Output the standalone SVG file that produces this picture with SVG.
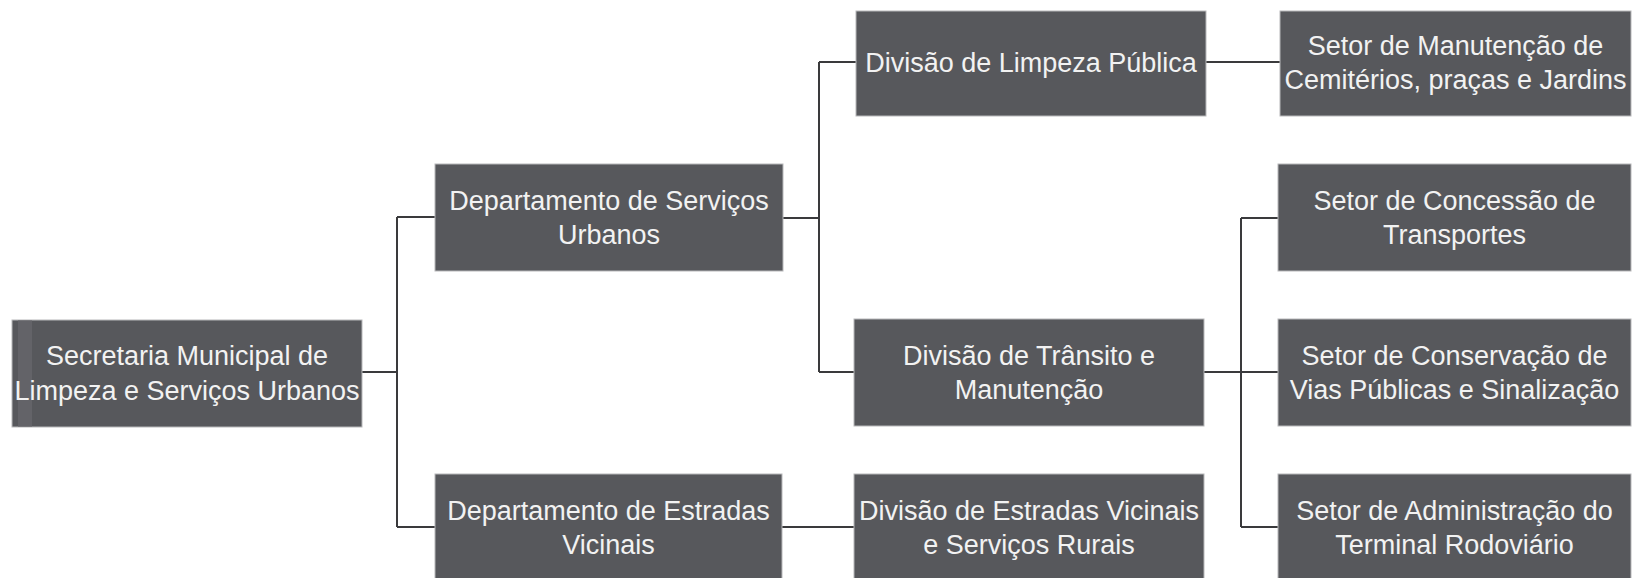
<svg xmlns="http://www.w3.org/2000/svg" width="1634" height="578" viewBox="0 0 1634 578">
<style>
.box{fill:#57585c;stroke:#b8b8ba;stroke-width:1}
.t{font-family:"Liberation Sans",Arial,sans-serif;font-size:27px;fill:#f2f2f2;text-anchor:middle}
.c{fill:none;stroke:#3a3a3c;stroke-width:2}
</style>
<rect width="1634" height="578" fill="#ffffff"/>
<g id="connectors">
<path class="c" d="M362 372H397M397 217V527M397 217H435M397 527H435"/>
<path class="c" d="M783 218H819M819 62V372M819 62H856M819 372H854"/>
<path class="c" d="M1206 62H1280"/>
<path class="c" d="M1204 372H1278M1241 218V527M1241 218H1278M1241 527H1278"/>
<path class="c" d="M782 527H854"/>
</g>
<g id="n-secretaria">
<rect class="box" x="12" y="320" width="350" height="107"/>
<rect x="18" y="320" width="14" height="107" fill="#6a6b6f" opacity="0.6"/>
<text class="t" x="187" y="365">Secretaria Municipal de</text>
<text class="t" x="187" y="400">Limpeza e Serviços Urbanos</text>
</g>
<g id="n-dep-servicos">
<rect class="box" x="435" y="164" width="348" height="107"/>
<text class="t" x="609" y="210">Departamento de Serviços</text>
<text class="t" x="609" y="244">Urbanos</text>
</g>
<g id="n-dep-estradas">
<rect class="box" x="435" y="474" width="347" height="106"/>
<text class="t" x="608.5" y="520">Departamento de Estradas</text>
<text class="t" x="608.5" y="554">Vicinais</text>
</g>
<g id="n-div-limpeza">
<rect class="box" x="856" y="11" width="350" height="105"/>
<text class="t" x="1031" y="72">Divisão de Limpeza Pública</text>
</g>
<g id="n-div-transito">
<rect class="box" x="854" y="319" width="350" height="107"/>
<text class="t" x="1029" y="365">Divisão de Trânsito e</text>
<text class="t" x="1029" y="399">Manutenção</text>
</g>
<g id="n-div-estradas">
<rect class="box" x="854" y="474" width="350" height="106"/>
<text class="t" x="1029" y="520">Divisão de Estradas Vicinais</text>
<text class="t" x="1029" y="554">e Serviços Rurais</text>
</g>
<g id="n-setor-manutencao">
<rect class="box" x="1280" y="11" width="351" height="105"/>
<text class="t" x="1455.5" y="55">Setor de Manutenção de</text>
<text class="t" x="1455.5" y="89">Cemitérios, praças e Jardins</text>
</g>
<g id="n-setor-concessao">
<rect class="box" x="1278" y="164" width="353" height="107"/>
<text class="t" x="1454.5" y="210">Setor de Concessão de</text>
<text class="t" x="1454.5" y="244">Transportes</text>
</g>
<g id="n-setor-conservacao">
<rect class="box" x="1278" y="319" width="353" height="107"/>
<text class="t" x="1454.5" y="365">Setor de Conservação de</text>
<text class="t" x="1454.5" y="399">Vias Públicas e Sinalização</text>
</g>
<g id="n-setor-administracao">
<rect class="box" x="1278" y="474" width="353" height="106"/>
<text class="t" x="1454.5" y="520">Setor de Administração do</text>
<text class="t" x="1454.5" y="554">Terminal Rodoviário</text>
</g>
</svg>
